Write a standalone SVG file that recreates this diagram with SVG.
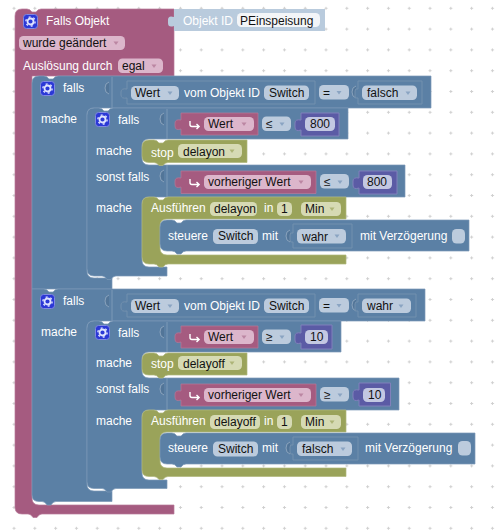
<svg xmlns="http://www.w3.org/2000/svg" xmlns:xlink="http://www.w3.org/1999/xlink" width="495" height="532" viewBox="0 0 495 532">
<style>
text{font-family:"Liberation Sans",Arial,sans-serif;font-size:12px;fill:#fff}
text.d{fill:#111}
.pk{fill:#a55b80;stroke:#b87a99;stroke-width:.7}
.bl{fill:#5b80a5;stroke:#7c99b7;stroke-width:.7}
.ol{fill:#9aa35a;stroke:#b0b87c;stroke-width:.7}
.pu{fill:#5b5ba5;stroke:#8080bb;stroke-width:1}
.ib{fill:#5b80a5;stroke:#7390ae;stroke-width:1}
.oid{fill:#b9cbdd}
.fb{fill:#bccbdd;rx:4.500px}
.fp{fill:#dcb6cb;rx:4.500px}
.fo{fill:#d6dab4;rx:4.500px}
.fu{fill:#c3c8e2;rx:4.500px}
.fw{fill:#f3f5f8;rx:4.500px}
.sep{stroke:#7c99b7;fill:none;stroke-width:1}
.tb{fill:#8aa4c2}.tp{fill:#bb86a2}.to{fill:#adb477}
.sock{fill:#527598;stroke:#8aa3bd;stroke-width:1}
</style>
<defs>
<pattern id="grid" patternUnits="userSpaceOnUse" x="3.6" y="-2.1" width="20.8" height="20.8">
<path d="M10.4 9v3M9 10.4h3" stroke="#cfcfcf" stroke-width="1" fill="none"/>
</pattern>
<g id="gear">
<rect x=".5" y=".5" width="14" height="14" rx="3" fill="#2b38d6" stroke="#7f88e0"/>
<circle cx="7.5" cy="7.5" r="3" fill="none" stroke="#dfe3ff" stroke-width="1.8"/>
<circle cx="7.5" cy="7.5" r="4.6" fill="none" stroke="#dfe3ff" stroke-width="1.4" stroke-dasharray="2 2.8"/>
</g>
<path id="arr" d="M0 0v3.500q0 2 2 2h7M6.500 3l2.600 2.500l-2.600 2.500" fill="none" stroke="#fff" stroke-width="1.400"/>
<path id="sk" class="sock" d="M1-1q-4 1-4 6t4 6"/>
<path id="tri" d="M.5 .5h5l-2.500 3.500z"/>
</defs>
<rect width="495" height="532" fill="#fff"/>
<rect width="495" height="532" fill="url(#grid)"/>

<g id="connectors"></g>

<g id="trigger">
<path class="pk" d="M15 16Q15 9 22 9H27q3 0 5 3h4q2-3 5-3H174V76H32V498Q32 505 39 505H174V514H42q-3 0-5 3.500h-4q-2-3.500-5-3.500H22Q15 514 15 507Z"/>
<use xlink:href="#gear" href="#gear" x="23" y="14"/>
<text x="46" y="25">Falls Objekt</text>
<rect class="fp" x="19" y="36" width="106" height="14"/>
<text class="d" x="23" y="47">wurde geändert</text>
<use href="#tri" class="tp" x="113" y="41"/>
<text x="23" y="70">Auslösung durch</text>
<rect class="fp" x="118" y="58.500" width="45" height="14.500"/>
<text class="d" x="122" y="70">egal</text>
<use href="#tri" class="tp" x="151" y="64"/>
</g>

<g id="objektid">
<path class="oid" d="M174 9H325V31H174V26q-6 2-6-3v-3q0-5 6-3Z"/>
<text x="183" y="25">Objekt ID</text>
<rect class="fw" x="237" y="13" width="83" height="14"/>
<text class="d" x="240" y="25">PEinspeisung</text>
</g>

<g id="falls1">
<path class="bl" d="M32 83Q32 76 39 76H44q3 0 5 3h4q2-3 5-3H431V108H94Q87 108 87 115V271Q87 278 94 278H112V289H32Z"/>
<use href="#gear" x="40" y="81"/>
<text x="63" y="92">falls</text>
<text x="41" y="123">mache</text>
<path class="sep" d="M112 77V108"/>
<use href="#sk" x="108" y="83"/>
</g>
<g id="cmp1">
<path class="ib" d="M127 81H315V104H127V98q-6 1-6-3v-3q0-4 6-3Z"/>
<rect class="fb" x="131" y="86" width="48" height="14"/>
<text class="d" x="135" y="97">Wert</text>
<use href="#tri" class="tb" x="167" y="91"/>
<text x="184" y="97">vom Objekt ID</text>
<rect class="fb" x="264" y="85.500" width="45" height="14.500"/>
<text class="d" x="269" y="97">Switch</text>
<rect class="fb" x="319" y="85" width="30" height="14.500"/>
<text class="d" x="323" y="97">=</text>
<use href="#tri" class="tb" x="336" y="90.500"/>
</g>
<g id="falsch1">
<use href="#sk" x="355" y="87"/>
<path class="ib" d="M358 81H422V104H358V98q-3 1-3-2v-5q0-3 3-2Z"/>
<rect class="fb" x="362" y="85.500" width="55" height="14.500"/>
<text class="d" x="367" y="97">falsch</text>
<use href="#tri" class="tb" x="405" y="91"/>
</g>

<g id="if1">
<path class="bl" d="M87 115Q87 108 94 108H99q3 0 5 3h4q2-3 5-3H348V139H149Q142 139 142 146V158Q142 165 149 165H405V197H149Q142 197 142 204V260Q142 267 149 267H167V276H116q-3 0-5 3.500h-4q-2-3.500-5-3.500H94Q87 276 87 269Z"/>
<use href="#gear" x="95" y="112"/>
<text x="118" y="124">falls</text>
<text x="96" y="155">mache</text>
<text x="96" y="181">sonst falls</text>
<text x="96" y="212">mache</text>
<path class="sep" d="M167 109V139M167 165V197"/>
<use href="#sk" x="163" y="114"/>
<use href="#sk" x="163" y="171"/>
</g>
<g id="val1">
<path class="pk" d="M181 113H258V135H181V129q-6 2-6-3v-3q0-4 6-3Z"/>
<use href="#arr" x="190" y="121"/>
<rect class="fp" x="204" y="117" width="50" height="14"/>
<text class="d" x="208" y="128">Wert</text>
<use href="#tri" class="tp" x="241" y="122"/>
<rect class="fb" x="262" y="116.500" width="29" height="14.500"/>
<text class="d" x="266" y="128">≤</text>
<use href="#tri" class="tb" x="279" y="122"/>
<path class="pu" d="M301 113H339V136H301V130q-6 2-6-3v-4q0-4 6-3Z"/>
<rect class="fu" x="305" y="117" width="30" height="14"/>
<text class="d" x="310" y="128">800</text>
</g>
<g id="stop1">
<path class="ol" d="M142 147Q142 140 149 140H154q3 0 5 3h4q2-3 5-3H247V162.500H168q-3 0-5 3h-4q-2-3-5-3H149Q142 162.500 142 156Z"/>
<text x="151" y="157">stop</text>
<rect class="fo" x="178" y="144" width="64" height="14"/>
<text class="d" x="183" y="156">delayon</text>
<use href="#tri" class="to" x="229" y="149"/>
</g>
<g id="val2">
<path class="pk" d="M181 171H316V193.500H181V187q-6 2-6-3v-3q0-4 6-3Z"/>
<use href="#arr" x="190" y="179"/>
<rect class="fp" x="204" y="175" width="107" height="14"/>
<text class="d" x="208" y="186">vorheriger Wert</text>
<use href="#tri" class="tp" x="298" y="180"/>
<rect class="fb" x="320" y="174" width="29" height="14.500"/>
<text class="d" x="324" y="186">≤</text>
<use href="#tri" class="tb" x="337" y="180"/>
<path class="pu" d="M359 171H397V194H359V188q-6 2-6-3v-4q0-4 6-3Z"/>
<rect class="fu" x="363" y="175" width="29" height="14"/>
<text class="d" x="367" y="186">800</text>
</g>
<g id="run1">
<path class="ol" d="M142 204Q142 197 149 197H154q3 0 5 3h4q2-3 5-3H346V219H167Q160 219 160 226V248Q160 255 167 255H346V264H168q-3 0-5 3h-4q-2-3-5-3H149Q142 264 142 257Z"/>
<text x="151" y="212">Ausführen</text>
<rect class="fo" x="210" y="202" width="47" height="14"/>
<text class="d" x="214" y="213">delayon</text>
<text x="264" y="212">in</text>
<rect class="fo" x="277" y="202" width="15" height="14"/>
<text class="d" x="281" y="213">1</text>
<rect class="fo" x="301" y="202" width="40" height="14"/>
<text class="d" x="305" y="213">Min</text>
<use href="#tri" class="to" x="329" y="207"/>
</g>
<g id="ctrl1">
<path class="bl" d="M160 227Q160 220 167 220H172q3 0 5 3h4q2-3 5-3H469V251H186q-3 0-5 3h-4q-2-3-5-3H167Q160 251 160 244Z"/>
<text x="168" y="240">steuere</text>
<rect class="fb" x="213" y="229" width="45" height="15"/>
<text class="d" x="218" y="240">Switch</text>
<text x="262" y="240">mit</text>
<use href="#sk" x="289" y="231"/>
<path class="ib" d="M293 224H352V248H293V242q-3 1-3-2v-5q0-3 3-2Z"/>
<rect class="fb" x="297" y="229" width="49" height="14.500"/>
<text class="d" x="302" y="241">wahr</text>
<use href="#tri" class="tb" x="334" y="234"/>
<text x="360" y="240">mit Verzögerung</text>
<rect class="fb" x="452" y="229" width="13" height="14.500"/>
</g>

<g id="falls2">
<path class="bl" d="M32 289H44q3 0 5 3h4q2-3 5-3H425V321H94Q87 321 87 328V484Q87 491 94 491H112V501.500H56q-3 0-5 3.500h-4q-2-3.500-5-3.500H39Q32 501.500 32 495Z"/>
<use href="#gear" x="40" y="294"/>
<text x="63" y="305">falls</text>
<text x="41" y="336">mache</text>
<path class="sep" d="M112 290V321"/>
<use href="#sk" x="108" y="296"/>
</g>
<g id="cmp2">
<path class="ib" d="M127 294H315V317H127V311q-6 1-6-3v-3q0-4 6-3Z"/>
<rect class="fb" x="131" y="299" width="48" height="14"/>
<text class="d" x="135" y="310">Wert</text>
<use href="#tri" class="tb" x="167" y="304"/>
<text x="184" y="310">vom Objekt ID</text>
<rect class="fb" x="264" y="298.500" width="45" height="14.500"/>
<text class="d" x="269" y="310">Switch</text>
<rect class="fb" x="319" y="298" width="30" height="14.500"/>
<text class="d" x="323" y="310">=</text>
<use href="#tri" class="tb" x="336" y="303.500"/>
</g>
<g id="wahr2">
<use href="#sk" x="355" y="300"/>
<path class="ib" d="M358 294H416V317H358V311q-3 1-3-2v-5q0-3 3-2Z"/>
<rect class="fb" x="362" y="298.500" width="49" height="14.500"/>
<text class="d" x="367" y="310">wahr</text>
<use href="#tri" class="tb" x="398" y="304"/>
</g>

<g id="if2">
<path class="bl" d="M87 328Q87 321 94 321H99q3 0 5 3h4q2-3 5-3H341V352H149Q142 352 142 359V371Q142 378 149 378H399V410H149Q142 410 142 417V473Q142 480 149 480H167V488.500H116q-3 0-5 3.500h-4q-2-3.500-5-3.500H94Q87 488.500 87 482Z"/>
<use href="#gear" x="95" y="325"/>
<text x="118" y="337">falls</text>
<text x="96" y="367">mache</text>
<text x="96" y="393">sonst falls</text>
<text x="96" y="425">mache</text>
<path class="sep" d="M167 322V352M167 378V410"/>
<use href="#sk" x="163" y="327"/>
<use href="#sk" x="163" y="384"/>
</g>
<g id="val3">
<path class="pk" d="M181 326H258V348H181V342q-6 2-6-3v-3q0-4 6-3Z"/>
<use href="#arr" x="190" y="334"/>
<rect class="fp" x="204" y="330" width="50" height="14"/>
<text class="d" x="208" y="341">Wert</text>
<use href="#tri" class="tp" x="241" y="335"/>
<rect class="fb" x="262" y="329.500" width="29" height="14.500"/>
<text class="d" x="266" y="341">≥</text>
<use href="#tri" class="tb" x="279" y="335"/>
<path class="pu" d="M301 325H332V349H301V343q-6 2-6-3v-4q0-4 6-3Z"/>
<rect class="fu" x="305" y="330" width="23" height="14"/>
<text class="d" x="310" y="341">10</text>
</g>
<g id="stop2">
<path class="ol" d="M142 360Q142 353 149 353H154q3 0 5 3h4q2-3 5-3H247V375H168q-3 0-5 3h-4q-2-3-5-3H149Q142 375 142 369Z"/>
<text x="151" y="368">stop</text>
<rect class="fo" x="178" y="356" width="64" height="14"/>
<text class="d" x="183" y="368">delayoff</text>
<use href="#tri" class="to" x="229" y="361"/>
</g>
<g id="val4">
<path class="pk" d="M181 384H316V406H181V400q-6 2-6-3v-3q0-4 6-3Z"/>
<use href="#arr" x="190" y="392"/>
<rect class="fp" x="204" y="388" width="107" height="14"/>
<text class="d" x="208" y="399">vorheriger Wert</text>
<use href="#tri" class="tp" x="298" y="393"/>
<rect class="fb" x="320" y="387" width="29" height="14.500"/>
<text class="d" x="324" y="399">≥</text>
<use href="#tri" class="tb" x="337" y="393"/>
<path class="pu" d="M359 383H390.500V406H359V400q-6 2-6-3v-4q0-4 6-3Z"/>
<rect class="fu" x="363" y="388" width="22" height="14"/>
<text class="d" x="368" y="399">10</text>
</g>
<g id="run2">
<path class="ol" d="M142 417Q142 410 149 410H154q3 0 5 3h4q2-3 5-3H346V432H167Q160 432 160 439V461Q160 468 167 468H346V476.500H168q-3 0-5 3h-4q-2-3-5-3H149Q142 476.500 142 470Z"/>
<text x="151" y="425">Ausführen</text>
<rect class="fo" x="210" y="415" width="50" height="14"/>
<text class="d" x="214" y="426">delayoff</text>
<text x="264" y="425">in</text>
<rect class="fo" x="277" y="415" width="15" height="14"/>
<text class="d" x="281" y="426">1</text>
<rect class="fo" x="301" y="415" width="40" height="14"/>
<text class="d" x="305" y="426">Min</text>
<use href="#tri" class="to" x="329" y="420"/>
</g>
<g id="ctrl2">
<path class="bl" d="M160 440Q160 433 167 433H172q3 0 5 3h4q2-3 5-3H475V464H186q-3 0-5 3h-4q-2-3-5-3H167Q160 464 160 457Z"/>
<text x="168" y="452">steuere</text>
<rect class="fb" x="213" y="441.500" width="45" height="15"/>
<text class="d" x="218" y="453">Switch</text>
<text x="262" y="452">mit</text>
<use href="#sk" x="289" y="443"/>
<path class="ib" d="M293 437H358V460H293V454q-3 1-3-2v-5q0-3 3-2Z"/>
<rect class="fb" x="297" y="441.500" width="55" height="14.500"/>
<text class="d" x="302" y="453">falsch</text>
<use href="#tri" class="tb" x="340" y="447"/>
<text x="365" y="452">mit Verzögerung</text>
<rect class="fb" x="458" y="441" width="13" height="14.500"/>
</g>
</svg>
